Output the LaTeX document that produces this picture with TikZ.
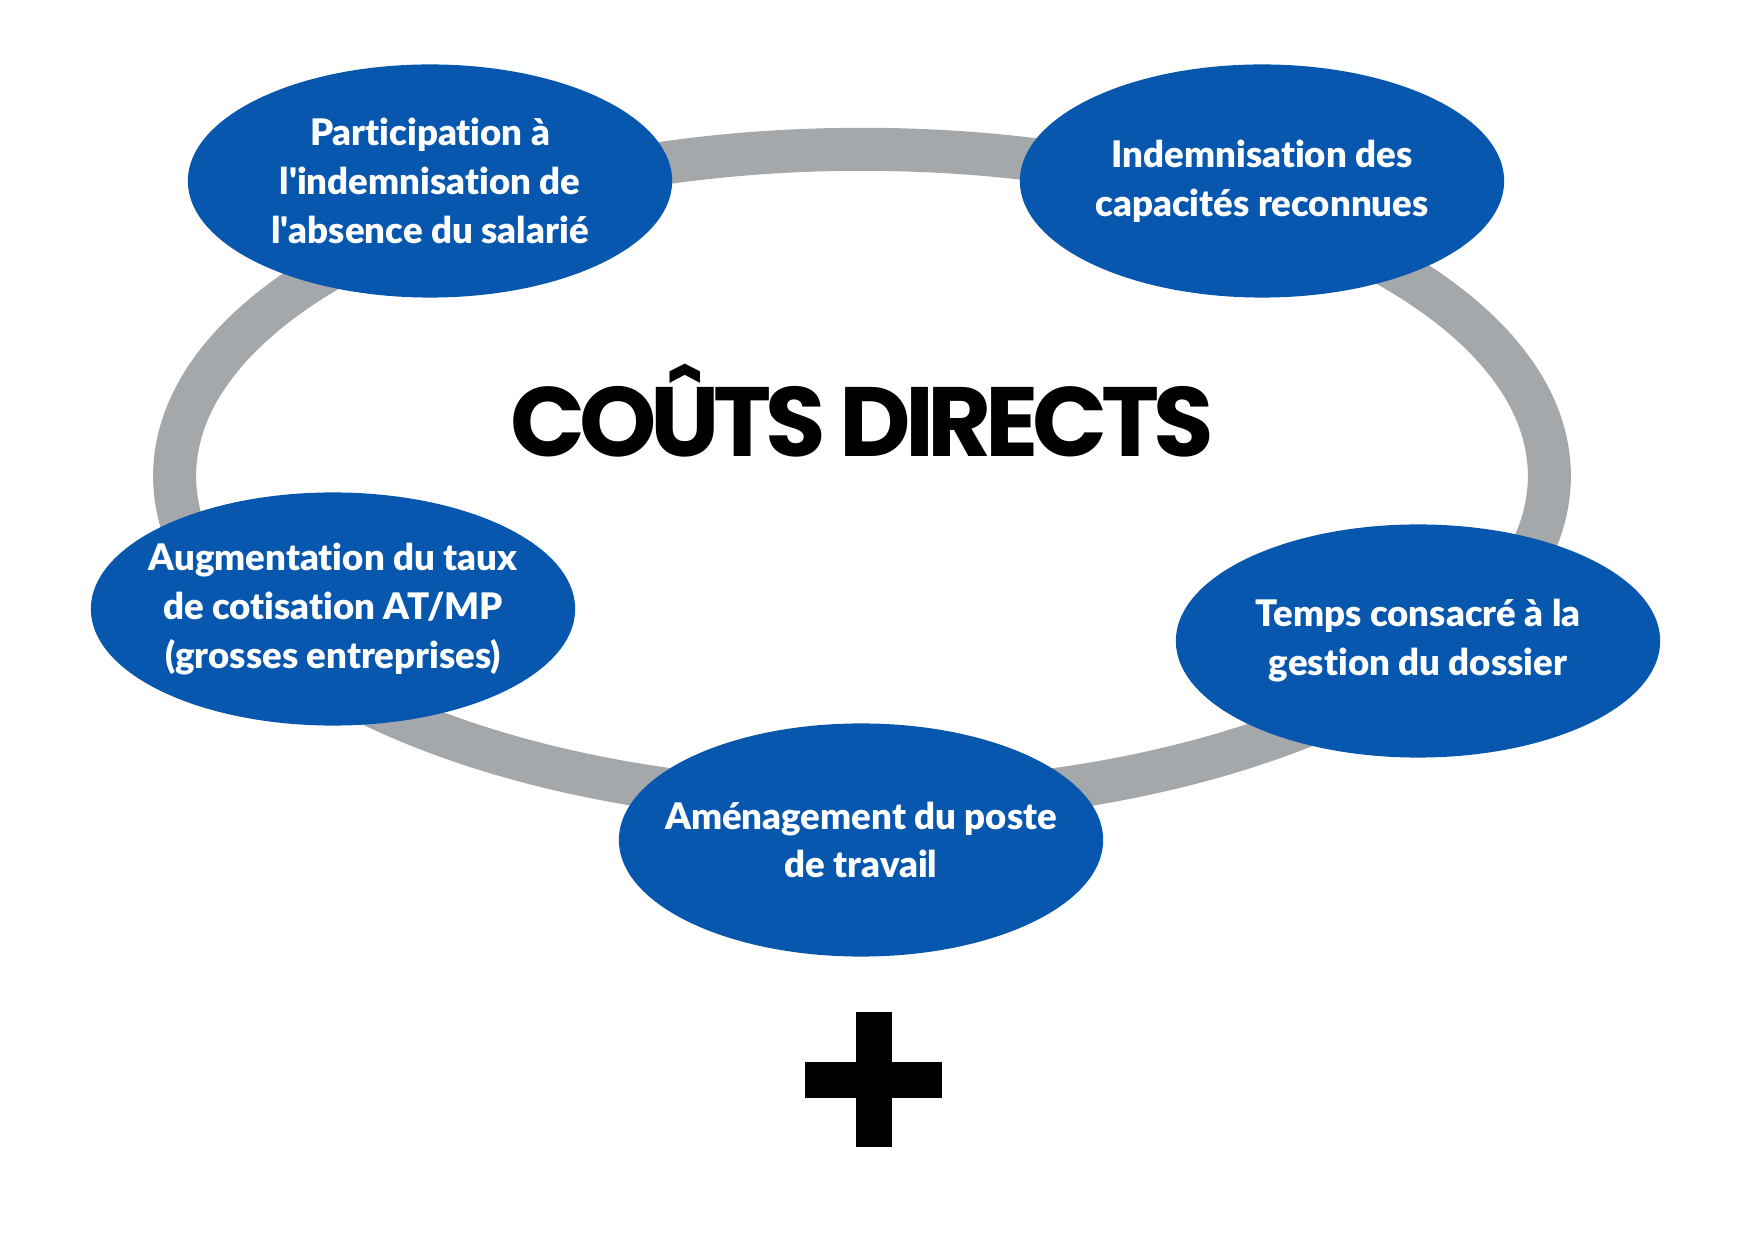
\documentclass[tikz,border=0pt]{standalone}
\usepackage{fontspec}
\setmainfont{Lato}[BoldFont={Lato Black}, Ligatures=NoCommon, RawFeature=-calt, RawFeature=-dlig]
\newfontfamily\titlefont{Poppins}[LetterSpace=-6.5]
\usepackage{tikz}
\usetikzlibrary{shapes.geometric}
\definecolor{bleu}{HTML}{0857AE}
\definecolor{gris}{HTML}{A5A8AB}
\tikzset{
  ring/.style={draw=gris, line width=0.43cm},
  bubble/.style={ellipse, fill=bleu, minimum width=4.84cm, minimum height=2.33cm,
    inner xsep=-1.5cm, inner ysep=-0.6cm, text=white, align=center,
    font=\bfseries\fontsize{10.4}{13.9}\selectfont},
  titre/.style={text=black, font=\titlefont\bfseries\fontsize{28}{30}\selectfont},
  plusbar/.style={fill=black},
}

\begin{document}
\begin{tikzpicture}[x=0.01cm,y=-0.01cm]
  \useasboundingbox (0,0) rectangle (1748,1240);
  % anneau gris
  \draw[ring] (862,476) ellipse [x radius=6.87cm, y radius=3.265cm];
  % bulles
  \node[bubble] (absence) at (430,181) {Participation à\\l\textquotesingle indemnisation de\\l\textquotesingle absence du salarié};
  \node[bubble] (capacites) at (1262,181) {Indemnisation des\\capacités reconnues};
  \node[bubble] (taux) at (333,609) {Augmentation du taux\\de cotisation AT/MP\\(grosses entreprises)};
  \node[bubble] (gestion) at (1418,641) {Temps consacré à la\\gestion du dossier};
  \node[bubble] (poste) at (861,840) {Aménagement du poste\\de travail};
  \node[titre, anchor=base] (titre) at (862,457) {COÛTS DIRECTS};
  % signe plus
  \fill[plusbar] (856,1012) rectangle (892,1147);
  \fill[plusbar] (805,1062) rectangle (942,1098);
\end{tikzpicture}
\end{document}
